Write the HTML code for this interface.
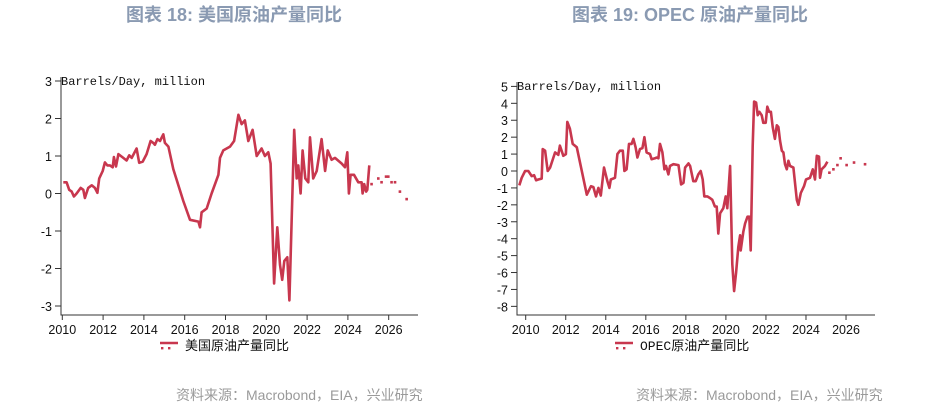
<!DOCTYPE html>
<html><head><meta charset="utf-8"><style>
body{margin:0;background:#fff;}
svg{display:block;font-family:"Liberation Sans","Noto Sans CJK SC",sans-serif;}
.title{font-family:"Liberation Sans","Noto Sans CJK SC",sans-serif;font-size:18px;font-weight:bold;fill:#8a9ab2;}
.src{font-family:"Liberation Sans","Noto Sans CJK SC",sans-serif;font-size:14px;fill:#9a9a9a;}
.tick{font-size:12.5px;fill:#111;}
.unit{font-family:"Liberation Mono","Noto Sans CJK SC",monospace;font-size:12px;fill:#111;}
.leg{font-family:"Liberation Mono","Noto Sans CJK SC",monospace;font-size:13px;fill:#111;}
</style></head><body>
<svg id="svg" width="925" height="409">
<text class="title" x="234" y="21" text-anchor="middle">图表 18: 美国原油产量同比</text>
<text class="title" x="690" y="21" text-anchor="middle">图表 19: OPEC 原油产量同比</text>
<text class="src" x="176" y="400">资料来源：Macrobond，EIA，兴业研究</text>
<text class="src" x="636" y="400">资料来源：Macrobond，EIA，兴业研究</text>
</svg>
<script>
// ---- US chart data (years since 2010, million b/d)
const usYears=[0.05,0.21,0.34,0.46,0.57,0.70,0.90,1.03,1.11,1.27,1.44,1.60,1.72,1.81,1.98,2.09,2.21,2.34,2.47,2.53,2.63,2.75,2.99,3.15,3.28,3.40,3.64,3.77,3.94,4.13,4.33,4.46,4.54,4.66,4.79,4.95,5.03,5.20,5.44,5.93,6.26,6.67,6.75,6.83,7.08,7.32,7.65,7.73,7.89,8.22,8.42,8.63,8.79,8.95,9.12,9.33,9.53,9.77,9.93,10.10,10.21,10.38,10.54,10.67,10.78,10.88,11.03,11.13,11.37,11.49,11.57,11.68,11.78,11.91,12.06,12.14,12.30,12.47,12.71,12.88,13.01,13.20,13.37,13.69,13.86,13.97,14.05,14.13,14.30,14.51,14.67,14.72,14.80,14.89,14.95,15.05];
const usValues=[0.3,0.3,0.1,0.05,-0.08,0.0,0.15,0.1,-0.12,0.15,0.22,0.15,0.02,0.4,0.6,0.83,0.75,0.75,0.7,0.97,0.72,1.05,0.95,0.88,1.02,0.95,1.2,0.82,0.85,1.05,1.4,1.35,1.3,1.45,1.4,1.58,1.35,1.25,0.65,-0.2,-0.7,-0.75,-0.9,-0.5,-0.4,0.0,0.5,0.95,1.15,1.25,1.4,2.1,1.85,1.95,1.4,1.7,1.0,1.2,1.0,1.1,0.8,-2.4,-0.9,-1.9,-2.3,-1.8,-1.7,-2.85,1.7,0.4,0.75,0.0,1.15,0.4,0.3,1.5,0.4,0.6,1.45,0.6,1.15,0.9,0.95,0.8,0.7,1.1,0.0,0.5,0.5,0.3,0.3,0.0,0.25,0.05,0.1,0.75];
const usFcYears=[15.16,15.49,15.65,15.87,15.98,16.14,16.31,16.55,16.88];
const usFcValues=[0.25,0.4,0.3,0.45,0.45,0.3,0.3,0.05,-0.15];
const usYTicks=[3,2,1,0,-1,-2,-3];
// ---- OPEC chart data
const opYears=[-0.32,-0.20,-0.03,0.13,0.30,0.42,0.52,0.63,0.80,0.85,0.97,1.10,1.22,1.47,1.63,1.71,1.88,2.01,2.08,2.21,2.35,2.55,2.80,3.05,3.26,3.38,3.51,3.63,3.75,3.91,4.08,4.18,4.25,4.46,4.58,4.71,4.85,4.93,5.04,5.16,5.29,5.38,5.49,5.58,5.71,5.83,5.93,6.04,6.21,6.29,6.46,6.54,6.63,6.71,6.83,6.93,7.01,7.13,7.21,7.38,7.63,7.76,7.88,7.96,8.13,8.21,8.37,8.49,8.62,8.74,8.84,8.92,9.07,9.21,9.32,9.45,9.54,9.62,9.71,9.87,9.99,10.07,10.21,10.32,10.41,10.51,10.62,10.71,10.74,10.87,10.96,11.08,11.17,11.24,11.34,11.41,11.51,11.59,11.67,11.79,11.87,11.99,12.07,12.16,12.25,12.34,12.45,12.54,12.62,12.70,12.79,12.87,12.95,13.04,13.12,13.20,13.37,13.54,13.62,13.74,13.90,14.00,14.20,14.34,14.45,14.54,14.65,14.70,14.78,14.95,15.07];
const opValues=[-0.85,-0.4,0.0,0.0,-0.3,-0.25,-0.55,-0.5,-0.45,1.3,1.2,0.0,0.2,1.1,0.95,1.5,0.9,1.0,2.9,2.5,1.6,1.4,0.0,-1.4,-0.9,-0.95,-1.5,-1.0,-1.45,0.2,-0.6,-1.0,-0.5,-0.4,1.0,1.2,1.2,0.0,0.1,1.6,1.6,1.9,1.4,0.8,1.3,1.35,2.0,1.1,1.0,0.7,0.75,0.8,0.75,1.6,1.1,0.1,0.3,-0.2,0.3,0.4,0.35,-0.8,-0.7,0.2,0.45,0.3,-0.6,-0.6,-0.2,0.0,-0.5,-1.5,-1.5,-1.6,-1.7,-2.1,-2.1,-3.7,-2.5,-2.2,-1.5,-2.2,0.3,-5.5,-7.1,-6.0,-4.5,-3.8,-4.7,-3.6,-3.1,-2.7,-2.7,-4.7,1.5,4.1,4.05,3.3,3.5,3.3,2.85,2.85,3.8,3.5,3.5,2.6,1.9,2.7,2.6,1.8,1.2,1.1,0.4,0.1,0.6,0.3,0.2,-1.7,-2.0,-1.3,-0.9,-0.5,-0.4,0.1,-0.5,0.9,0.85,-0.4,0.1,0.3,0.55];
const opFcYears=[15.17,15.37,15.57,15.73,16.03,16.40,16.95];
const opFcValues=[-0.1,0.1,0.35,0.75,0.35,0.5,0.4];
const opYTicks=[5,4,3,2,1,0,-1,-2,-3,-4,-5,-6,-7,-8];
const xTickYears=[2010,2012,2014,2016,2018,2020,2022,2024,2026];
const BASE=2010, COLOR="#c8374e";
const svg=document.getElementById('svg');
const NS="http://www.w3.org/2000/svg";
function mk(tag,attrs,parent){const e=document.createElementNS(NS,tag);for(const k in attrs)e.setAttribute(k,attrs[k]);(parent||svg).appendChild(e);return e;}
function chart(cfg){
  const g=mk('g',{});
  
  
  const X=t=>cfg.x0+(t-BASE)*cfg.xs, Y=v=>cfg.y0-v*cfg.ys;
  const ax=mk('path',{d:`M${cfg.axX},${cfg.top} V${cfg.bottom} H${cfg.right}`,stroke:'#333',fill:'none','stroke-width':1},g);
  
  
  cfg.yTicks.forEach(v=>{
    mk('line',{x1:cfg.axX-6,x2:cfg.axX,y1:Y(v),y2:Y(v),stroke:'#333'},g);
    const t=mk('text',{x:cfg.axX-9,y:Y(v)+5,'text-anchor':'end',class:'tick'},g);
    t.textContent=v;
    
    
  });
  xTickYears.forEach(yr=>{
    mk('line',{x1:X(yr),x2:X(yr),y1:cfg.bottom,y2:cfg.bottom+5,stroke:'#333'},g);
    const t=mk('text',{x:X(yr),y:cfg.bottom+19,'text-anchor':'middle',class:'tick'},g);
    t.textContent=yr;
    
    
  });
  const u=mk('text',{x:cfg.axX,y:cfg.top+8,class:'unit'},g);
  u.textContent='Barrels/Day, million';
  
  
  const d=cfg.years.map((t,i)=>(i?'L':'M')+X(BASE+t).toFixed(1)+','+Y(cfg.values[i]).toFixed(1)).join(' ');
  const ln=mk('path',{d,stroke:COLOR,fill:'none','stroke-width':2.6,'stroke-linejoin':'round'},g);
  
  
  cfg.fcYears.forEach((t,i)=>{
    const c=mk('rect',{x:X(BASE+t)-1.3,y:Y(cfg.fcValues[i])-1.3,width:2.6,height:2.6,fill:COLOR},g);
    
    
  });
  const lg=mk('g',{},g);
  
  
  mk('line',{x1:cfg.legX,x2:cfg.legX+18,y1:cfg.legY-3,y2:cfg.legY-3,stroke:COLOR,'stroke-width':2.6},lg);
  [cfg.legX+1,cfg.legX+8].forEach(xx=>mk('rect',{x:xx,y:cfg.legY+1,width:2.4,height:2.4,fill:COLOR},lg));
  const lt=mk('text',{x:cfg.legX+25,y:cfg.legY+4,class:'leg'},lg);
  lt.textContent=cfg.legend;
}
chart({name:'us-production-chart',x0:62.3,xs:20.4,y0:193.5,ys:37.5,axX:61,top:77,bottom:315,right:418,yTicks:usYTicks,years:usYears,values:usValues,fcYears:usFcYears,fcValues:usFcValues,legX:160,legY:346,legend:'美国原油产量同比'});
chart({name:'opec-production-chart',x0:525.7,xs:20.02,y0:171,ys:16.92,axX:517,top:82,bottom:315,right:875,yTicks:opYTicks,years:opYears,values:opValues,fcYears:opFcYears,fcValues:opFcValues,legX:615,legY:346,legend:'OPEC原油产量同比'});
</script>
</body></html>
